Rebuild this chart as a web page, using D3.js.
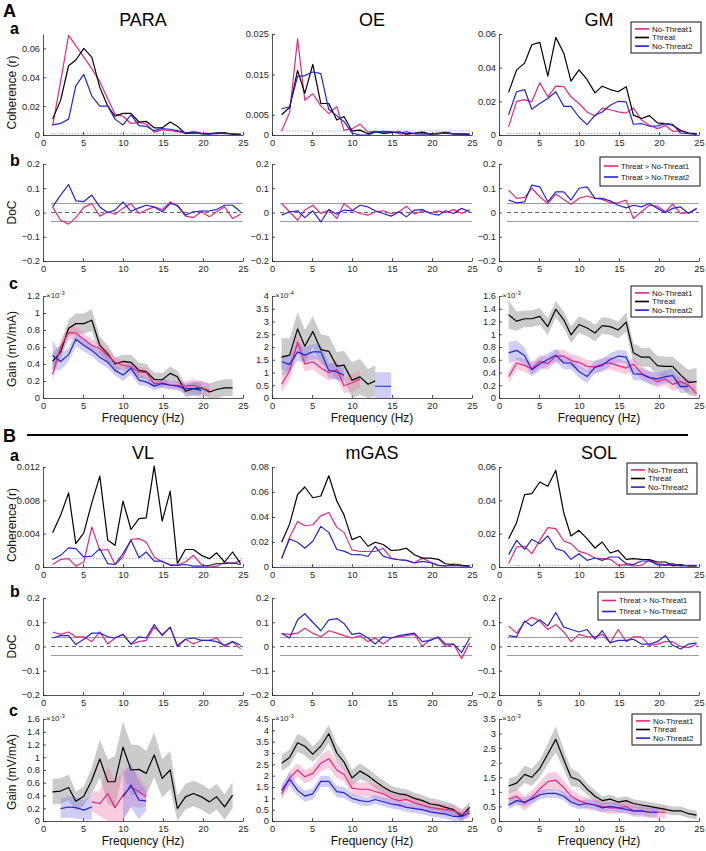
<!DOCTYPE html>
<html><head><meta charset="utf-8">
<script src="https://cdn.jsdelivr.net/npm/d3@7"></script>
<style>body{margin:0;background:#fff}svg{display:block}text{font-family:"Liberation Sans",Arial,sans-serif}</style>
</head><body><svg id="c" width="706" height="851"></svg>
<script>
// ---------- DATA ----------
const freqs = [1.2,2.2,3.2,4.1,5.1,6.1,7.1,8.1,9.0,10.0,11.0,12.0,12.9,13.9,14.9,15.9,16.8,17.8,18.8,19.8,20.8,21.7,22.7,23.7,24.7];
const xTicks = [0,5,10,15,20,25];
const muscles = ["PARA","OE","GM","VL","mGAS","SOL"];
const condLabels = ["No-Threat1","Threat","No-Threat2"];
const docLabels = ["Threat > No-Threat1","Threat > No-Threat2"];

// Coherence (r)
const paraCohNT1 = [0.0064,0.037,0.069,0.062,0.054,0.046,0.037,0.025,0.0145,0.013,0.008,0.0087,0.0076,0.002,0.0035,0.003,0.0023,0.0014,0.0025,0.0013,0.001,0.0008,0.0015,0.0008,0.0005];
const paraCohT   = [0.011,0.024,0.048,0.052,0.06,0.054,0.033,0.020,0.013,0.015,0.015,0.009,0.0095,0.005,0.005,0.009,0.006,0.001,0.0015,0.001,0.001,0.0015,0.0015,0.0005,0.0005];
const paraCohNT2 = [0.007,0.008,0.011,0.034,0.042,0.027,0.020,0.020,0.011,0.007,0.014,0.0065,0.006,0.003,0.0045,0.004,0.003,0.0015,0.0015,0.001,0.0005,0.0012,0.001,0.0008,0.0005];
const oeCohNT1 = [0.001,0.0056,0.0238,0.0086,0.0102,0.0072,0.0053,0.007,0.0012,0.0015,0.0027,0.0007,0.0009,0.0007,0.0008,0.0003,0.0003,0.0005,0.0005,0.0003,0.0005,0.0007,0.0003,0.0003,0.0002];
const oeCohT   = [0.005,0.0068,0.016,0.0103,0.0175,0.0078,0.0078,0.0037,0.0046,0.001,0.0012,0.0003,0.0008,0.0004,0.0006,0.0008,0.0002,0.0004,0.0007,0.0002,0.0003,0.0006,0.0003,0.0002,0.0001];
const oeCohNT2 = [0.0065,0.007,0.0145,0.0147,0.0156,0.0152,0.0063,0.0048,0.0033,0.0005,0,0,0.0007,0.0009,0.0008,0.0005,0.0008,0.0003,0.0002,0.0003,0.0004,0.0004,0.0003,0.0002,0.0002];
const gmCohNT1 = [0.0048,0.020,0.021,0.0197,0.031,0.0227,0.029,0.0287,0.0227,0.0187,0.0137,0.0113,0.016,0.015,0.0137,0.013,0.016,0.009,0.0058,0.0038,0.0056,0.0022,0.0024,0.0012,0.0004];
const gmCohT   = [0.0253,0.0387,0.0427,0.0536,0.055,0.035,0.058,0.0486,0.032,0.0387,0.033,0.025,0.029,0.027,0.0257,0.0287,0.0118,0.0098,0.0115,0.0072,0.0068,0.0058,0.0028,0.0012,0.0008];
const gmCohNT2 = [0.012,0.0257,0.027,0.0153,0.0187,0.0217,0.0257,0.017,0.017,0.0107,0.0062,0.0117,0.0137,0.0177,0.020,0.0197,0.0064,0.0068,0.0052,0.0054,0.0068,0.0064,0.0012,0.0008,0.0004];
const vlCohNT1 = [0.0003,0.0009,0.001,0.0001,0.0006,0.0048,0.002,0.0021,0.0003,0.0012,0.0033,0.0034,0.003,0.0012,0.0006,0.0003,0.0002,0.0006,0.0014,0.0003,0,0.0001,0.0006,0.0004,0.0008];
const vlCohT   = [0.0041,0.0062,0.0089,0.0028,0.0041,0.0077,0.0109,0.0032,0.0026,0.0079,0.0045,0.0058,0.0059,0.0121,0.0055,0.0091,0.0004,0.0021,0.0021,0.0014,0.001,0.0017,0.0006,0.0018,0.0004];
const vlCohNT2 = [0.0009,0.0014,0.0023,0.0022,0.0012,0.0013,0.0022,0.0004,0.0003,0.0016,0.0032,0.0011,0.0018,0.0007,0.0007,0.0002,0.0002,0.0003,0.0001,0.0001,0.0002,0.0004,0.0004,0.0005,0.0003];
const mgasCohNT1 = [0.0066,0.0238,0.0364,0.033,0.0338,0.0409,0.0436,0.0317,0.0277,0.0137,0.0124,0.0124,0.0124,0.015,0.0071,0.0058,0.0053,0.0034,0.0071,0.004,0.0013,0.0008,0.0026,0.0013,0.0008];
const mgasCohT   = [0.0198,0.0343,0.058,0.064,0.0554,0.0568,0.073,0.0528,0.0417,0.0219,0.0246,0.0166,0.0198,0.018,0.0132,0.0137,0.015,0.0098,0.0071,0.0071,0.0061,0.0026,0.0018,0.0013,0.0008];
const mgasCohNT2 = [0.0071,0.0224,0.0198,0.015,0.0206,0.0325,0.0277,0.014,0.0127,0.0098,0.01,0.0084,0.0164,0.0087,0.0066,0.0058,0.0053,0.0032,0.0045,0.0034,0.0013,0.0008,0.0013,0.0008,0.0005];
const solCohNT1 = [0.002,0.012,0.0124,0.008,0.016,0.0236,0.023,0.0156,0.014,0.0094,0.008,0.0054,0.005,0.0046,0.001,0.0014,0.0006,0.001,0.004,0.002,0.0014,0.0006,0.001,0.0006,0.0006];
const solCohT   = [0.017,0.0266,0.0434,0.044,0.051,0.0484,0.058,0.0324,0.0186,0.022,0.017,0.0114,0.015,0.0084,0.01,0.0046,0.005,0.0046,0.0044,0.003,0.003,0.001,0.0014,0.0006,0.0006];
const solCohNT2 = [0.0074,0.016,0.0106,0.0166,0.014,0.0186,0.011,0.0096,0.0046,0.008,0.004,0.0054,0.004,0.006,0.006,0.002,0.0014,0.0036,0.0036,0.0014,0.001,0.002,0.0006,0.001,0.001];
const cohConfLimit = [0.0009,0.001,0.0008,0.001,0.0009,0.0008];
const cohMax = [0.07,0.025,0.06,0.012,0.08,0.06];
const cohTicks = [[0,0.02,0.04,0.06],[0,0.005,0.015,0.025],[0,0.02,0.04,0.06],[0,0.004,0.008,0.012],[0,0.02,0.04,0.06,0.08],[0,0.02,0.04,0.06]];

// Difference of coherence
const paraDoc1 = [0.023,-0.032,-0.048,-0.021,0.021,0.037,-0.015,0.003,-0.007,0.017,0.037,-0.004,0.01,0.023,0.012,0.044,0.026,-0.015,-0.021,0.003,-0.018,0.003,0.023,-0.025,-0.007];
const paraDoc2 = [0.023,0.072,0.115,0.048,0.045,0.072,0.023,-0.001,0.01,0.044,0.005,0.019,0.03,0.023,0.003,0.037,0.03,-0.011,0.003,0.006,0.007,0.012,0.03,0.03,0.003];
const oeDoc1 = [0.037,0.003,-0.032,0.01,0.03,-0.004,0.01,-0.025,0.037,0.01,-0.004,-0.011,0.003,0.007,-0.004,0.003,0.026,-0.007,0.007,-0.001,0.007,-0.001,0.012,-0.004,0.012];
const oeDoc2 = [-0.011,0.003,0.007,-0.021,0.007,-0.039,0.012,-0.007,0.01,0.007,0.03,0.023,0.007,-0.004,-0.015,0.003,-0.018,0.01,0.012,-0.004,-0.011,0.007,-0.004,0.017,0.003];
const gmDoc1 = [0.092,0.058,0.062,0.1,0.065,0.037,0.076,0.054,0.034,0.058,0.068,0.058,0.054,0.04,0.04,0.051,-0.025,0.003,0.03,0.026,0.003,0.034,-0.004,-0.001,0.015];
const gmDoc2 = [0.051,0.04,0.044,0.113,0.106,0.044,0.085,0.085,0.051,0.1,0.106,0.058,0.058,0.048,0.03,0.019,0.03,0.023,0.037,0.017,-0.001,0.017,0.023,-0.004,0.017];
const vlDoc1 = [0.06,0.05,0.06,0.04,0.04,0.02,0.06,0.01,0.035,0.05,0.01,0.02,0.025,0.08,0.05,0.08,0.005,0.03,0.01,0.025,0.025,0.035,0.0,0.02,-0.01];
const vlDoc2 = [0.035,0.045,0.045,0.008,0.03,0.055,0.055,0.04,0.035,0.05,0.01,0.04,0.035,0.09,0.045,0.08,0.0,0.03,0.035,0.025,0.025,0.02,0.005,0.02,0.005];
const mgasDoc1 = [0.053,0.05,0.055,0.075,0.055,0.04,0.065,0.055,0.045,0.035,0.045,0.02,0.035,0.01,0.035,0.04,0.045,0.05,0.0,0.03,0.035,0.0,0.01,-0.05,0.015];
const mgasDoc2 = [0.055,0.035,0.11,0.135,0.1,0.065,0.11,0.115,0.095,0.05,0.055,0.035,0.01,0.04,0.035,0.045,0.05,0.055,0.02,0.025,0.04,0.01,0.01,-0.025,0.035];
const solDoc1 = [0.085,0.055,0.1,0.12,0.105,0.07,0.09,0.06,0.02,0.05,0.04,0.04,0.05,0.015,0.07,0.02,0.04,0.04,0.005,0.01,0.02,0.02,0.0,-0.005,0.01];
const solDoc2 = [0.045,0.04,0.105,0.085,0.11,0.085,0.14,0.08,0.07,0.06,0.07,0.03,0.065,0.015,0.025,0.025,0.03,0.01,0.01,0.02,0.045,0.005,-0.01,0.01,0.015];
const docTicks = [-0.2,-0.1,0,0.1,0.2];
const docThreshold = [0.037,0.037,0.037,0.037,0.037,0.037];

// Gain (mV/mA), in units of the axis multiplier
const paraGainNT1 = [0.28,0.60,0.77,0.765,0.69,0.62,0.58,0.50,0.42,0.385,0.365,0.305,0.30,0.17,0.175,0.155,0.15,0.14,0.15,0.12,0.09,null,null,null,null];
const paraGainNT1se = [0.08,0.08,0.08,0.08,0.07,0.07,0.07,0.07,0.06,0.06,0.06,0.06,0.06,0.05,0.05,0.05,0.05,0.06,0.07,0.08,0.08,null,null,null,null];
const paraGainT = [0.43,0.54,0.82,0.875,0.875,0.915,0.62,0.52,0.40,0.43,0.42,0.325,0.31,0.22,0.215,0.29,0.25,0.08,0.11,0.12,0.07,0.10,0.12,0.12,null];
const paraGainTse = [0.1,0.09,0.1,0.12,0.12,0.13,0.1,0.1,0.08,0.08,0.09,0.09,0.09,0.08,0.08,0.08,0.07,0.07,0.08,0.08,0.1,0.1,0.1,0.1,null];
const paraGainNT2 = [0.50,0.43,0.51,0.69,0.62,0.56,0.48,0.42,0.325,0.27,0.35,0.21,0.19,0.14,0.17,0.15,0.14,0.11,0.11,0.09,null,null,null,null,null];
const paraGainNT2se = [0.18,0.1,0.08,0.08,0.07,0.07,0.07,0.07,0.06,0.07,0.07,0.06,0.05,0.05,0.05,0.05,0.05,0.06,0.08,0.08,null,null,null,null,null];
const oeGainNT1 = [0.54,1.06,2.19,1.34,1.42,1.19,0.99,1.12,0.48,0.6,0.74,null,null,null,null,null,null,null,null,null,null,null,null,null,null];
const oeGainNT1se = [0.3,0.35,0.35,0.3,0.3,0.3,0.3,0.35,0.3,0.35,0.35,null,null,null,null,null,null,null,null,null,null,null,null,null,null];
const oeGainT = [1.6,1.68,2.71,2.03,2.61,1.9,1.83,1.25,1.29,0.7,0.83,0.54,0.67,null,null,null,null,null,null,null,null,null,null,null,null];
const oeGainTse = [0.75,0.65,0.65,0.65,0.6,0.6,0.6,0.55,0.55,0.7,0.7,0.6,0.6,null,null,null,null,null,null,null,null,null,null,null,null];
const oeGainNT2 = [1.42,1.32,1.81,1.68,1.81,1.81,1.08,1.03,0.89,null,null,null,0.46,0.46,0.46,null,null,null,null,null,null,null,null,null,null];
const oeGainNT2se = [0.3,0.3,0.35,0.3,0.3,0.3,0.3,0.3,0.3,null,null,null,0.55,0.55,0.55,null,null,null,null,null,null,null,null,null,null];
const gmGainNT1 = [0.336,0.549,0.512,0.459,0.576,0.539,0.656,0.656,0.587,0.56,0.496,0.485,0.533,0.549,0.507,0.469,0.533,0.389,0.325,0.256,0.299,0.213,0.256,0.203,0.069];
const gmGainNT1se = [0.1,0.1,0.1,0.1,0.1,0.1,0.1,0.1,0.1,0.1,0.1,0.1,0.1,0.1,0.1,0.1,0.1,0.1,0.1,0.1,0.1,0.1,0.1,0.1,0.1];
const gmGainT = [1.307,1.205,1.243,1.243,1.28,1.12,1.392,1.227,0.992,1.152,1.099,1.019,1.136,1.12,1.067,1.19,0.709,0.64,0.64,0.507,0.496,0.496,0.363,0.245,0.256];
const gmGainTse = [0.22,0.15,0.13,0.13,0.13,0.13,0.13,0.13,0.13,0.13,0.13,0.13,0.13,0.13,0.13,0.15,0.15,0.15,0.15,0.15,0.15,0.15,0.18,0.2,0.22];
const gmGainNT2 = [0.709,0.747,0.667,0.443,0.533,0.603,0.672,0.549,0.549,0.416,0.336,0.485,0.512,0.603,0.656,0.64,0.379,0.373,0.32,0.299,0.336,0.352,0.176,0.187,null];
const gmGainNT2se = [0.17,0.15,0.13,0.1,0.1,0.1,0.1,0.1,0.1,0.1,0.1,0.1,0.1,0.1,0.1,0.1,0.1,0.1,0.1,0.1,0.1,0.1,0.1,0.1,null];
const vlGainNT1 = [null,null,null,null,null,0.3,0.274,0.43,0.21,0.405,0.537,0.458,0.379,null,null,null,null,null,null,null,null,null,null,null,null];
const vlGainNT1se = [null,null,null,null,null,0.15,0.2,0.45,0.4,0.4,0.3,0.25,0.15,null,null,null,null,null,null,null,null,null,null,null,null];
const vlGainT = [0.458,0.47,0.526,0.31,0.39,0.64,0.974,0.616,0.616,1.158,0.8,0.81,0.747,1.037,0.668,0.8,0.195,0.379,0.432,0.379,0.3,0.379,0.221,0.405,null];
const vlGainTse = [0.2,0.2,0.2,0.15,0.15,0.2,0.3,0.35,0.4,0.4,0.4,0.38,0.35,0.35,0.3,0.3,0.2,0.2,0.2,0.2,0.2,0.2,0.2,0.2,null];
const vlGainNT2 = [null,0.195,0.22,0.21,0.17,0.22,null,null,null,0.379,0.563,0.326,0.316,null,null,null,null,null,null,null,null,null,null,null,null];
const vlGainNT2se = [null,0.15,0.17,0.17,0.15,0.2,null,null,null,0.35,0.35,0.3,0.15,null,null,null,null,null,null,null,null,null,null,null,null];
const mgasGainNT1 = [1.2,1.9,2.25,1.95,2.1,2.55,2.75,2.25,2.05,1.45,1.4,1.4,1.3,1.2,1.0,0.9,0.95,0.8,0.7,0.6,0.55,0.5,0.45,0.3,0.45];
const mgasGainNT1se = [0.3,0.3,0.3,0.3,0.3,0.35,0.4,0.35,0.3,0.3,0.3,0.3,0.3,0.3,0.3,0.3,0.3,0.3,0.25,0.25,0.25,0.25,0.25,0.25,0.25];
const mgasGainT = [2.55,2.8,3.45,3.3,2.95,3.3,3.85,3.0,2.6,1.9,2.2,2.0,1.75,1.5,1.3,1.2,1.15,1.0,0.9,0.75,0.7,0.6,0.5,0.2,0.6];
const mgasGainTse = [0.35,0.35,0.4,0.4,0.35,0.35,0.4,0.4,0.35,0.35,0.35,0.3,0.3,0.3,0.25,0.25,0.25,0.25,0.25,0.25,0.25,0.25,0.25,0.25,0.25];
const mgasGainNT2 = [1.35,1.85,1.35,1.1,1.2,1.75,1.75,1.3,1.25,1.0,0.9,0.85,0.95,0.85,0.75,0.7,0.6,0.55,0.5,0.4,0.35,0.3,0.2,0.2,0.35];
const mgasGainNT2se = [0.25,0.3,0.25,0.25,0.25,0.25,0.25,0.25,0.25,0.2,0.2,0.2,0.2,0.2,0.2,0.2,0.2,0.2,0.2,0.2,0.2,0.2,0.2,0.2,0.2];
const solGainNT1 = [0.75,0.85,0.6,0.8,1.1,1.35,1.4,1.15,0.85,0.7,0.6,0.55,0.5,0.45,0.45,0.5,0.35,0.35,0.3,0.3,0.3,null,null,null,null];
const solGainNT1se = [0.25,0.25,0.25,0.25,0.25,0.3,0.3,0.25,0.25,0.2,0.2,0.2,0.2,0.2,0.2,0.2,0.2,0.2,0.2,0.2,0.2,null,null,null,null];
const solGainT = [1.2,1.3,1.6,1.5,1.8,2.3,2.8,2.1,1.5,1.4,1.1,0.85,0.7,0.75,0.65,0.7,0.6,0.55,0.5,0.45,0.4,0.35,0.35,0.25,0.2];
const solGainTse = [0.25,0.25,0.3,0.3,0.3,0.35,0.45,0.35,0.3,0.25,0.2,0.2,0.15,0.15,0.15,0.15,0.15,0.15,0.15,0.15,0.15,0.15,0.15,0.15,0.15];
const solGainNT2 = [0.55,0.7,0.65,0.75,0.9,0.95,0.95,0.85,0.65,0.55,0.6,0.55,0.45,0.5,0.45,0.4,0.35,0.35,0.3,0.3,null,null,null,null,null];
const solGainNT2se = [0.15,0.15,0.15,0.15,0.15,0.15,0.15,0.15,0.15,0.15,0.15,0.15,0.15,0.15,0.15,0.15,0.15,0.15,0.15,0.15,null,null,null,null,null];
const gainMax = [1.2,4,1.6,1.6,4.5,3.5];
const gainTicks = [[0,0.2,0.4,0.6,0.8,1,1.2],[0,0.5,1,1.5,2,2.5,3,3.5,4],[0,0.2,0.4,0.6,0.8,1,1.2,1.4,1.6],[0,0.2,0.4,0.6,0.8,1,1.2,1.4,1.6],[0,0.5,1,1.5,2,2.5,3,3.5,4,4.5],[0,0.5,1,1.5,2,2.5,3,3.5]];
const gainExp = ["-3","-4","-3","-3","-3","-3"];

// ---------- LAYOUT / STYLE ----------
const COLX = [[43,243],[272,472],[499,699]];
const ROWY = {Aa:[135,34],Ab:[261,164],Ac:[398,296],Ba:[567,467],Bb:[695,598],Bc:[821,719]};
const PINK = "#e3287f", BLUE = "#2424d0", BLACK = "#000";
const BAND = {NT1:["#f07aae",0.38], T:["#a8a8a8",0.6], NT2:["#7d7dee",0.38]};
const AX = "#262626";
const svg = d3.select("#c");
const fmt = d3.format("~g");

function axes(g, x, y, yTicks){
  const gx = g.append("g").attr("transform",`translate(0,${y.range()[0]})`)
    .call(d3.axisBottom(x).tickValues(xTicks).tickSizeInner(-3).tickSizeOuter(0).tickPadding(4).tickFormat(fmt));
  const gy = g.append("g").attr("transform",`translate(${x.range()[0]},0)`)
    .call(d3.axisLeft(y).tickValues(yTicks).tickSizeInner(-3).tickSizeOuter(0).tickPadding(3).tickFormat(fmt));
  [gx,gy].forEach(a=>{
    a.select(".domain").attr("stroke",AX).attr("stroke-width",0.8);
    a.selectAll(".tick line").attr("stroke",AX).attr("stroke-width",0.8);
    a.selectAll("text").attr("fill",AX).attr("font-size",9.3).attr("font-family","'Liberation Sans',Arial,sans-serif");
  });
}
function drawLine(g,x,y,vals,color,w){
  const pts = freqs.map((f,i)=>[f,vals[i]]);
  g.append("path").attr("d", d3.line().defined(d=>d[1]!=null).x(d=>x(d[0])).y(d=>y(d[1]))(pts))
    .attr("fill","none").attr("stroke",color).attr("stroke-width",w||1.2).attr("stroke-linejoin","round");
}
function drawBand(g,x,y,vals,se,band){
  const pts = freqs.map((f,i)=>[f,vals[i],se[i]]);
  g.append("path").attr("d", d3.area().defined(d=>d[1]!=null)
      .x(d=>x(d[0])).y0(d=>y(Math.max(0,d[1]-d[2]))).y1(d=>y(d[1]+d[2]))(pts))
    .attr("fill",band[0]).attr("fill-opacity",band[1]).attr("stroke","none");
}
function legend(x0,y0,w,h,labels,colors,fs,dy){
  const g = svg.append("g");
  g.append("rect").attr("x",x0).attr("y",y0).attr("width",w).attr("height",h).attr("fill","#fff").attr("stroke","#111").attr("stroke-width",1);
  const top = y0 + (h - (labels.length-1)*dy)/2;
  labels.forEach((t,i)=>{
    const yy = top + i*dy;
    g.append("line").attr("x1",x0+4).attr("x2",x0+18).attr("y1",yy).attr("y2",yy).attr("stroke",colors[i]).attr("stroke-width",1.6);
    g.append("text").attr("x",x0+21).attr("y",yy+fs*0.36).attr("font-size",fs).attr("fill","#111").text(t);
  });
}

const cohSets = [[paraCohNT1,paraCohT,paraCohNT2],[oeCohNT1,oeCohT,oeCohNT2],[gmCohNT1,gmCohT,gmCohNT2],
                 [vlCohNT1,vlCohT,vlCohNT2],[mgasCohNT1,mgasCohT,mgasCohNT2],[solCohNT1,solCohT,solCohNT2]];
const docSets = [[paraDoc1,paraDoc2],[oeDoc1,oeDoc2],[gmDoc1,gmDoc2],[vlDoc1,vlDoc2],[mgasDoc1,mgasDoc2],[solDoc1,solDoc2]];
const gainSets = [
  [[paraGainNT1,paraGainNT1se],[paraGainT,paraGainTse],[paraGainNT2,paraGainNT2se]],
  [[oeGainNT1,oeGainNT1se],[oeGainT,oeGainTse],[oeGainNT2,oeGainNT2se]],
  [[gmGainNT1,gmGainNT1se],[gmGainT,gmGainTse],[gmGainNT2,gmGainNT2se]],
  [[vlGainNT1,vlGainNT1se],[vlGainT,vlGainTse],[vlGainNT2,vlGainNT2se]],
  [[mgasGainNT1,mgasGainNT1se],[mgasGainT,mgasGainTse],[mgasGainNT2,mgasGainNT2se]],
  [[solGainNT1,solGainNT1se],[solGainT,solGainTse],[solGainNT2,solGainNT2se]]];

muscles.forEach((m,k)=>{
  const col = k%3, blk = k<3 ? "A" : "B";
  const x = d3.scaleLinear().domain([0,25]).range(COLX[col]);
  // --- coherence ---
  let g = svg.append("g");
  let y = d3.scaleLinear().domain([0,cohMax[k]]).range(ROWY[blk+"a"]);
  axes(g,x,y,cohTicks[k]);
  g.append("line").attr("x1",x(1)).attr("x2",x(25)).attr("y1",y(cohConfLimit[k])).attr("y2",y(cohConfLimit[k]))
    .attr("stroke","#8f8fe0").attr("stroke-width",0.8).attr("stroke-dasharray","1.5,1.5");
  drawLine(g,x,y,cohSets[k][0],PINK); drawLine(g,x,y,cohSets[k][1],BLACK); drawLine(g,x,y,cohSets[k][2],BLUE);
  g.append("text").attr("x",(COLX[col][0]+COLX[col][1])/2).attr("y",ROWY[blk+"a"][1]-8)
    .attr("text-anchor","middle").attr("font-size",18).attr("fill","#000").text(m);
  // --- DoC ---
  g = svg.append("g");
  y = d3.scaleLinear().domain([-0.2,0.2]).range(ROWY[blk+"b"]);
  axes(g,x,y,docTicks);
  [docThreshold[k],-docThreshold[k]].forEach(v=>g.append("line").attr("x1",x(1)).attr("x2",x(25)).attr("y1",y(v)).attr("y2",y(v))
    .attr("stroke","#9a9a9a").attr("stroke-width",1));
  g.append("line").attr("x1",x(1)).attr("x2",x(25)).attr("y1",y(0)).attr("y2",y(0))
    .attr("stroke","#555").attr("stroke-width",0.9).attr("stroke-dasharray","4,3");
  drawLine(g,x,y,docSets[k][0],PINK); drawLine(g,x,y,docSets[k][1],BLUE);
  // --- gain ---
  g = svg.append("g");
  y = d3.scaleLinear().domain([0,gainMax[k]]).range(ROWY[blk+"c"]);
  axes(g,x,y,gainTicks[k]);
  const gs = gainSets[k];
  drawBand(g,x,y,gs[1][0],gs[1][1],BAND.T);
  drawBand(g,x,y,gs[0][0],gs[0][1],BAND.NT1);
  drawBand(g,x,y,gs[2][0],gs[2][1],BAND.NT2);
  drawLine(g,x,y,gs[1][0],BLACK); drawLine(g,x,y,gs[0][0],PINK); drawLine(g,x,y,gs[2][0],BLUE);
  const ex = g.append("text").attr("x",x(0)+3).attr("y",ROWY[blk+"c"][1]+2).attr("font-size",8).attr("fill",AX).text("×10");
  ex.append("tspan").attr("dy",-3).attr("font-size",6).text(gainExp[k]);
  g.append("text").attr("x",(COLX[col][0]+COLX[col][1])/2).attr("y",ROWY[blk+"c"][0]+24)
    .attr("text-anchor","middle").attr("font-size",12).attr("fill","#111").text("Frequency (Hz)");
});

// y-axis labels
function ylab(text,row,shift){
  const yc = (ROWY[row][0]+ROWY[row][1])/2 + shift;
  svg.append("text").attr("transform",`translate(16,${yc}) rotate(-90)`).attr("text-anchor","middle")
    .attr("font-size",12).attr("fill","#111").text(text);
}
["A","B"].forEach(b=>{ylab("Coherence (r)",b+"a",8);ylab("DoC",b+"b",0);ylab("Gain (mV/mA)",b+"c",2);});

// panel letters
[["A",3,17,18],["B",3,442,18]].forEach(d=>svg.append("text").attr("x",d[1]).attr("y",d[2]).attr("font-size",d[3]).attr("font-weight","bold").text(d[0]));
[["a",10,34],["b",10,166],["c",9,289],["a",10,461],["b",10,597],["c",9,716]].forEach(d=>
  svg.append("text").attr("x",d[1]).attr("y",d[2]).attr("font-size",16).attr("font-weight","bold").text(d[0]));
// section separator
svg.append("line").attr("x1",27).attr("x2",688).attr("y1",435).attr("y2",435).attr("stroke","#000").attr("stroke-width",2);

// legends
legend(631,22,70,31,condLabels,[PINK,BLACK,BLUE],8,8.6);
legend(600,157,100,29,docLabels,[PINK,BLUE],7.5,11);
legend(631,286,71,31,condLabels,[PINK,BLACK,BLUE],8,8.6);
legend(627,463,70,31,condLabels,[PINK,BLACK,BLUE],8,8.6);
legend(598,592,102,28,docLabels,[PINK,BLUE],7.5,11);
legend(632,714,69,31,condLabels,[PINK,BLACK,BLUE],8,8.6);
</script></body></html>
